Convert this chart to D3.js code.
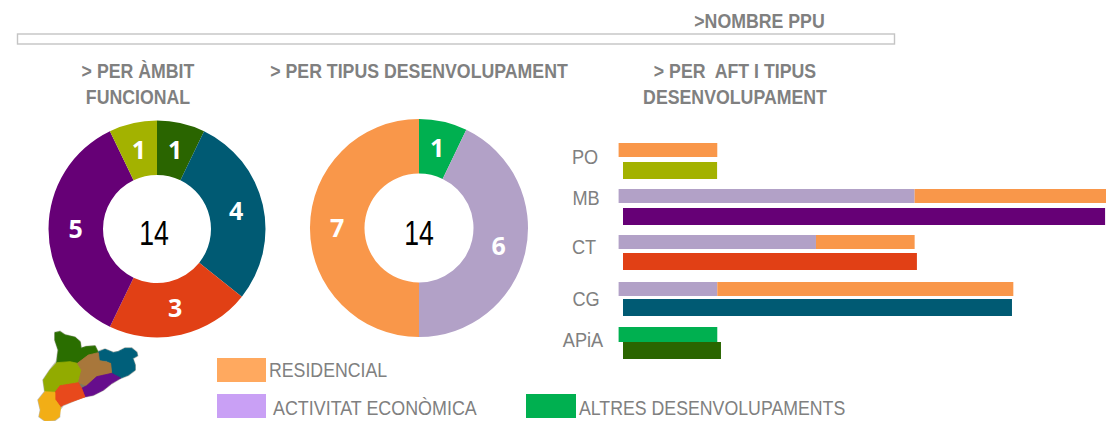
<!DOCTYPE html>
<html><head><meta charset="utf-8">
<script src="https://cdnjs.cloudflare.com/ajax/libs/d3/7.8.5/d3.min.js"></script>
<style>html,body{margin:0;padding:0;background:#fff;overflow:hidden}svg{display:block}
text{font-family:"Liberation Sans",sans-serif;fill:#808080;white-space:pre}</style></head>
<body><svg id="c" width="1106" height="421"><defs><filter id="soft" x="-5%" y="-5%" width="110%" height="110%"><feGaussianBlur stdDeviation="0.7"/></filter></defs></svg>
<script>
// ---- data
const ambitLabels = ["APiA","CG","CT","MB","PO"];
const ambitValues = [1,4,3,5,1];
const ambitColors = ["#2a6500","#005a73","#e14015","#660076","#a3b200"];
const tipusLabels = ["Altres","Activitat","Residencial"];
const tipusValues = [1,6,7];
const tipusColors = ["#00b050","#b2a1c7","#f9974a"];
const total = 14;
const aftCategories = ["PO","MB","CT","CG","APiA"];
const econValues   = [0,3,2,1,0];
const resValues    = [1,2,1,3,0];
const altresValues = [0,0,0,0,1];
const ambitBarValues = [0.97,4.97,3.03,4.01,1.01];
const ambitBarColors = ["#a3b200","#660076","#e14015","#005a73","#2a6500"];
const legendLabels = ["RESIDENCIAL","ACTIVITAT ECONÒMICA","ALTRES DESENVOLUPAMENTS"];
const legendColors = ["#ffa95f","#c9a0f5","#00b050"];
const mapOutline = [[165,38],[180,35],[195,45],[225,52],[240,65],[243,85],[258,80],[285,78],[293,95],[315,88],[340,98],[355,95],[375,85],[395,85],[410,97],[412,107],[398,115],[405,135],[405,150],[385,165],[360,175],[335,190],[310,210],[280,225],[245,232],[215,245],[190,255],[178,270],[178,290],[165,300],[135,302],[118,290],[122,270],[115,240],[135,215],[130,180],[150,150],[170,125],[175,90],[165,60]];
const mapRegions = [
 {c:"#2a6e00",p:[[165,38],[180,35],[195,45],[225,52],[240,65],[243,85],[258,80],[285,78],[295,98],[265,105],[232,130],[210,125],[170,130],[175,90],[165,60]]},
 {c:"#005f7a",p:[[293,97],[315,88],[340,98],[355,95],[375,85],[395,85],[410,97],[412,107],[398,115],[405,135],[405,150],[385,165],[360,175],[335,165],[332,130],[320,122],[298,120]]},
 {c:"#92ab05",p:[[170,128],[210,125],[232,130],[245,150],[235,188],[180,197],[165,217],[135,215],[130,180],[150,150]]},
 {c:"#a8773a",p:[[232,130],[265,105],[295,98],[298,122],[332,130],[335,160],[290,170],[260,197],[235,188],[245,150]]},
 {c:"#660a8c",p:[[290,170],[335,160],[362,174],[335,190],[310,210],[280,225],[255,230],[245,205],[260,197]]},
 {c:"#e8481a",p:[[180,197],[235,188],[245,205],[255,231],[215,245],[190,255],[180,262],[165,238],[165,217]]},
 {c:"#f2ae14",p:[[135,215],[165,217],[165,238],[182,262],[178,290],[165,300],[135,302],[118,290],[122,270],[115,240]]}
];

const svg = d3.select("#c");
const narrow = 0.865;

// narrow text: Liberation Sans squeezed horizontally
function ntext(parent,s,x,y,size,anchor,bold,sx){
  return parent.append("text")
    .attr("transform",`translate(${x},${y}) scale(${sx||narrow},1)`)
    .attr("text-anchor",anchor||"start").attr("font-size",size)
    .attr("font-weight",bold?700:400).attr("dy","0.36em").text(s);
}

// frame + titles
svg.append("rect").attr("x",17.5).attr("y",34).attr("width",877).attr("height",10)
   .attr("fill","#fff").attr("stroke","#c4c4c4").attr("stroke-width",1.4);
const tt=svg.append("g");
ntext(tt,">NOMBRE PPU",759.5,21,20.5,"middle",true);
ntext(tt,"> PER ÀMBIT",138,71,20.5,"middle",true);
ntext(tt,"FUNCIONAL",138,97,20.5,"middle",true);
ntext(tt,"> PER TIPUS DESENVOLUPAMENT",419,71,20.5,"middle",true);
ntext(tt,"> PER  AFT I TIPUS",735,71,20.5,"middle",true);
ntext(tt,"DESENVOLUPAMENT",735,97,20.5,"middle",true);

// donuts
function donut(vals,cols,cx,cy,r0,r1,tx,ty){
  const g=svg.append("g").attr("transform",`translate(${cx},${cy})`);
  const arcs=d3.pie().sort(null)(vals);
  const arc=d3.arc().innerRadius(r0).outerRadius(r1);
  g.selectAll("path").data(arcs).join("path").attr("d",arc).attr("fill",(d,i)=>cols[i]);
  g.selectAll("text.v").data(arcs).join("text").attr("class","v")
    .attr("transform",d=>`translate(${arc.centroid(d)})`)
    .attr("text-anchor","middle").attr("dy","0.36em")
    .attr("font-size",25).attr("font-weight",700)
    .style("font-family","'Open Sans',sans-serif").style("fill","#fff").text(d=>d.value);
  g.append("text").attr("transform",`translate(${tx},${ty}) scale(0.74,1)`).attr("text-anchor","middle").attr("dy","0.36em")
    .attr("font-size",36).style("fill","#000").text(total);
}
donut(ambitValues,ambitColors,157,229,54,108.5,-3,3);
donut(tipusValues,tipusColors,419,228,54.5,109,0,4);

// bars
const x = d3.scaleLinear().domain([0,5]).range([618.6,1112]);
const w = d3.scaleLinear().domain([0,5]).range([0,485]);
const topYs = [143,189,235,282,327];
const lowYs = [162,208,253,299,342];
const labelYs = [156,197,246,298,339];
const labelXs = [585,586,584,586,583];
const series=[{v:econValues,c:"#b2a1c7"},{v:resValues,c:"#f9974a"},{v:altresValues,c:"#00b050"}];
const stack=d3.stack().keys([0,1,2]).value((d,k)=>series[k].v[d])(d3.range(aftCategories.length));
stack.forEach((layer,k)=>{
  svg.append("g").selectAll("rect").data(layer).join("rect")
   .attr("x",d=>x(d[0])).attr("width",d=>x(d[1])-x(d[0]))
   .attr("y",(d,i)=>topYs[i]).attr("height",(d,i)=>i===4?15:14)
   .attr("fill",series[k].c);
});
svg.append("g").selectAll("rect").data(ambitBarValues).join("rect")
   .attr("x",623).attr("width",d=>w(d)).attr("y",(d,i)=>lowYs[i]).attr("height",17)
   .attr("fill",(d,i)=>ambitBarColors[i]);
const cl=svg.append("g");
aftCategories.forEach((d,i)=>ntext(cl,d,labelXs[i],labelYs[i],21,"middle",false));

// legend
const lg=[{x:217,y:358,t:269,dy:12,sx:0.865},{x:217,y:394,t:273,dy:14,sx:0.873},{x:526,y:394,t:579,dy:14,sx:0.865}];
lg.forEach((p,i)=>{
  svg.append("rect").attr("x",p.x).attr("y",p.y).attr("width",i==2?50:49).attr("height",24).attr("fill",legendColors[i]);
  ntext(svg,legendLabels[i],p.t,p.y+p.dy,20.5,"start",false,p.sx);
});

// map pictogram
const mx=d3.scaleLinear().domain([0,660]).range([0,220]);
const my=d3.scaleLinear().domain([0,303]).range([320,421]);
const ln=d3.line().x(d=>mx(d[0])).y(d=>my(d[1])).curve(d3.curveLinearClosed);
const mg=svg.append("g").attr("filter","url(#soft)");
mg.append("path").attr("d",ln(mapOutline)).attr("fill","#7a7a60").attr("stroke","#c0c0b8").attr("stroke-width",2);
mg.selectAll("path.f").data(mapRegions).join("path").attr("class","f").attr("d",d=>ln(d.p))
  .attr("fill",d=>d.c).attr("stroke",d=>d.c).attr("stroke-width",0.8);
</script></body></html>
